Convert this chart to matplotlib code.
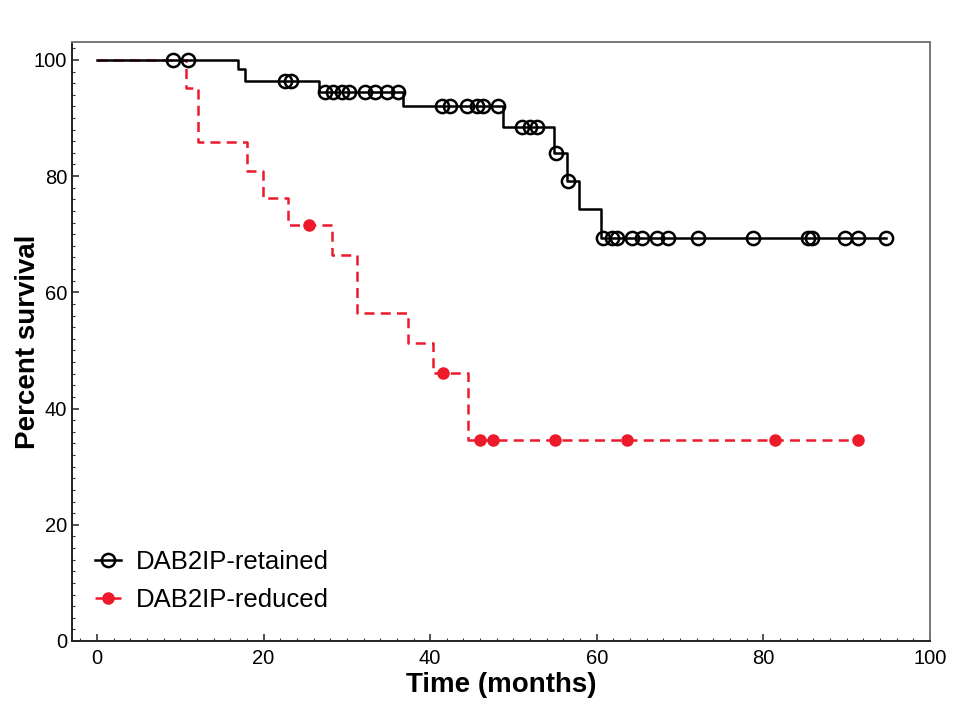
import numpy as np
import matplotlib
matplotlib.use("Agg")
import matplotlib.pyplot as plt
from matplotlib.ticker import MultipleLocator

plt.rcParams["font.family"] = ["Liberation Sans", "DejaVu Sans"]

# DAB2IP-retained: step times / survival after each step
ret_times = [0, 16.9, 17.8, 26.6, 36.7, 48.7, 54.9, 56.4, 57.9, 60.5, 94.7]
ret_surv = [100, 98.5, 96.3, 94.5, 92.1, 88.4, 84.0, 79.2, 74.4, 69.4, 69.4]
ret_censor = [9.1, 10.9, 22.6, 23.3, 27.4, 28.3, 29.4, 30.3, 32.2, 33.4, 34.8, 36.1,
              41.4, 42.4, 44.4, 45.6, 46.3, 48.1, 51.0, 52.0, 52.8, 55.1, 56.5,
              60.7, 61.8, 62.4, 64.2, 65.4, 67.2, 68.5, 72.1, 78.7, 85.4, 85.8,
              89.8, 91.4, 94.7]

# DAB2IP-reduced
red_times = [0, 10.7, 12.1, 18.0, 19.9, 22.9, 28.2, 31.2, 37.3, 40.3, 44.5, 91.4]
red_surv = [100, 95.2, 85.9, 80.9, 76.2, 71.6, 66.4, 56.4, 51.3, 46.1, 34.6, 34.6]
red_censor = [25.5, 41.5, 46.0, 47.5, 55.0, 63.6, 81.4, 91.4]

RED = "#ec1a2a"


def level_at(times, surv, t):
    idx = np.searchsorted(times, t, side="right") - 1
    return np.asarray(surv)[idx]


fig = plt.figure(figsize=(9.76, 7.17), dpi=100)
ax = fig.add_axes([0.0738, 0.106, 0.879, 0.8356])

ax.step(red_times, red_surv, where="post", color=RED, lw=1.8,
        ls=(0, (4, 2.5)), zorder=3)
ax.plot(red_censor, level_at(red_times, red_surv, red_censor), "o",
        color=RED, ms=8, zorder=4)

ax.step(ret_times, ret_surv, where="post", color="black", lw=1.8, zorder=5)
ax.plot(ret_censor, level_at(ret_times, ret_surv, ret_censor), "o",
        mfc="none", mec="black", mew=1.8, ms=9.5, zorder=6)

# legend handles
ax.plot([], [], color="black", lw=1.8, marker="o", mfc="none", mec="black",
        mew=1.8, ms=9.5, label="DAB2IP-retained")
ax.plot([], [], color=RED, lw=1.8, ls=(0, (4, 2.5)), marker="o", ms=8,
        label="DAB2IP-reduced")
handles, labels = ax.get_legend_handles_labels()
ax.legend(handles, labels, loc="lower left", frameon=False, fontsize=18.5,
          handlelength=1.0, handletextpad=0.6, borderaxespad=0.5,
          labelspacing=0.55, bbox_to_anchor=(0.0, 0.01))

ax.set_xlim(-3, 100)
ax.set_ylim(0, 103.1)
ax.xaxis.set_major_locator(MultipleLocator(20))
ax.xaxis.set_minor_locator(MultipleLocator(2))
ax.yaxis.set_major_locator(MultipleLocator(20))
ax.yaxis.set_minor_locator(MultipleLocator(2))
ax.tick_params(which="both", direction="in", colors="#333333", labelcolor="black",
               labelsize=14.5)
ax.tick_params(which="major", length=5, width=1.2)
ax.tick_params(which="minor", length=2.5, width=0.8)
ax.tick_params(axis="x", which="major", pad=6)

for side in ["top", "right"]:
    ax.spines[side].set_color("#777777")
for side in ["left", "bottom"]:
    ax.spines[side].set_color("#222222")
for sp in ax.spines.values():
    sp.set_linewidth(1.4)

ax.set_xlabel("Time (months)", fontsize=20, fontweight="bold", labelpad=3)
ax.set_ylabel("Percent survival", fontsize=20, fontweight="bold")
ax.yaxis.set_label_coords(-0.036, 0.5)

fig.savefig("out.png", dpi=100)
